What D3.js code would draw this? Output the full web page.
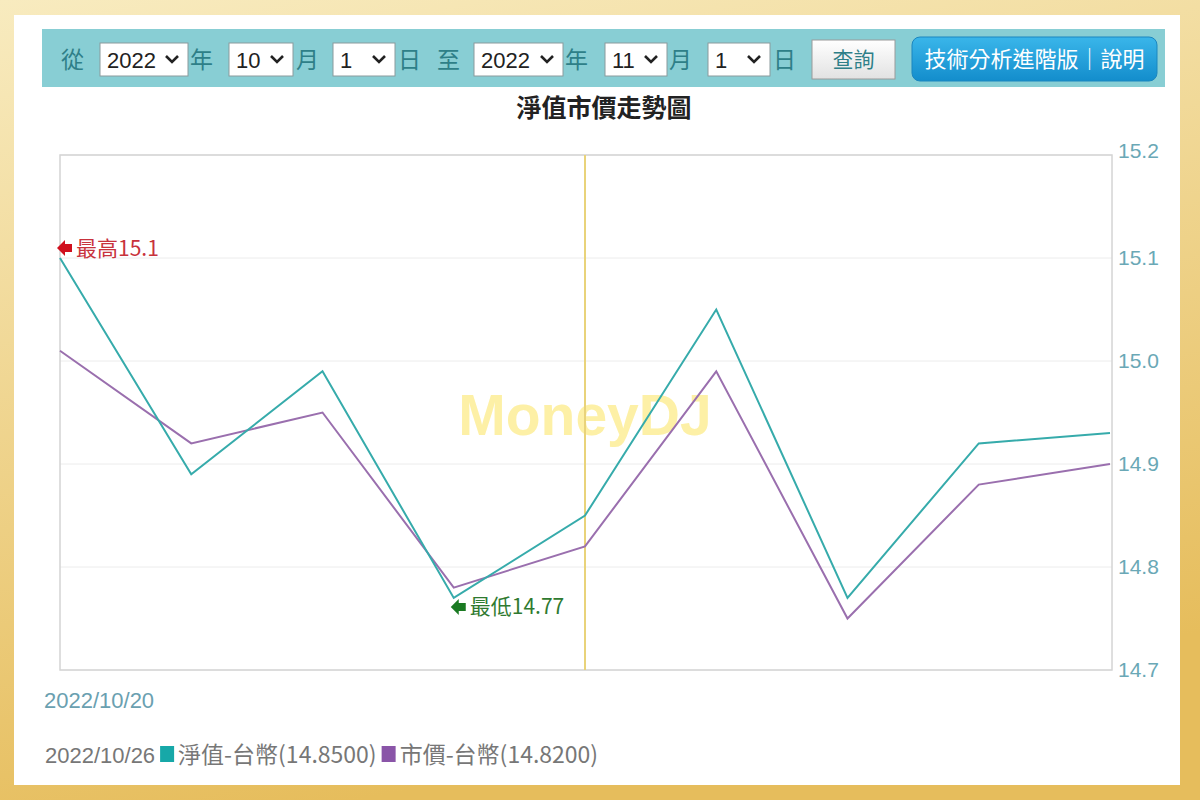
<!DOCTYPE html>
<html><head><meta charset="utf-8">
<script src="https://cdn.jsdelivr.net/npm/d3@7/dist/d3.min.js"></script>
<style>html,body{margin:0;padding:0;background:#fff;}svg{display:block;}</style>
</head><body>
<script>
const dates = ["2022/10/20","2022/10/21","2022/10/24","2022/10/25","2022/10/26","2022/10/27","2022/10/28","2022/10/31","2022/11/01"];
const navValues = [15.10, 14.89, 14.99, 14.77, 14.85, 15.05, 14.77, 14.92, 14.93];
const priceValues = [15.01, 14.92, 14.95, 14.78, 14.82, 14.99, 14.75, 14.88, 14.90];
const yTicks = [14.7, 14.8, 14.9, 15.0, 15.1, 15.2];
const hoverIndex = 4;
const chartTitle = "淨值市價走勢圖";
const seriesNames = ["淨值-台幣", "市價-台幣"];

const W = 1200, H = 800;
const svg = d3.select("body").append("svg").attr("width", W).attr("height", H);
const defs = svg.append("defs");
const fg = defs.append("linearGradient").attr("id","frame").attr("x1","0").attr("y1","0").attr("x2","0.3").attr("y2","1");
fg.append("stop").attr("offset","0%").attr("stop-color","#f8ebbf");
fg.append("stop").attr("offset","100%").attr("stop-color","#e6bd5c");
const bg = defs.append("linearGradient").attr("id","blueBtn").attr("x1","0").attr("y1","0").attr("x2","0").attr("y2","1");
bg.append("stop").attr("offset","0%").attr("stop-color","#3ab6ea");
bg.append("stop").attr("offset","100%").attr("stop-color","#138dcc");
const gg = defs.append("linearGradient").attr("id","grayBtn").attr("x1","0").attr("y1","0").attr("x2","0").attr("y2","1");
gg.append("stop").attr("offset","0%").attr("stop-color","#ffffff");
gg.append("stop").attr("offset","100%").attr("stop-color","#e2e2e2");

svg.append("rect").attr("width",W).attr("height",H).attr("fill","url(#frame)");
svg.append("rect").attr("x",14).attr("y",15).attr("width",1166).attr("height",770).attr("fill","#fff");

const CJK = "'Noto Sans CJK TC','Liberation Sans',sans-serif";
const NUM = "'Liberation Sans','Noto Sans CJK TC',sans-serif";

// toolbar
const tb = svg.append("g");
tb.append("rect").attr("x",42).attr("y",29).attr("width",1123).attr("height",58).attr("fill","#88ced4");
const labelColor = "#2e7f88";
function tText(px, t){ tb.append("text").attr("x",px).attr("y",68).attr("font-family",CJK).attr("font-size",23).attr("fill",labelColor).text(t); }
function sel(px, w, t){
  tb.append("rect").attr("x",px).attr("y",43).attr("width",w).attr("height",33).attr("fill","#fff").attr("stroke","#8a9a9c").attr("stroke-width",1);
  tb.append("text").attr("x",px+7).attr("y",68).attr("font-family",NUM).attr("font-size",22).attr("fill","#222").text(t);
  const cx = px + w - 16;
  tb.append("path").attr("d",`M${cx-6},56 L${cx},62 L${cx+6},56`).attr("fill","none").attr("stroke","#222").attr("stroke-width",2.6);
}
tText(61,"從"); sel(100,88,"2022"); tText(190,"年");
sel(229,64,"10"); tText(296,"月");
sel(333,62,"1"); tText(398,"日");
tText(437,"至"); sel(474,89,"2022"); tText(565,"年");
sel(605,62,"11"); tText(669,"月");
sel(708,62,"1"); tText(773,"日");
tb.append("rect").attr("x",812).attr("y",40).attr("width",83).attr("height",39).attr("fill","url(#grayBtn)").attr("stroke","#9a9a9a");
tb.append("text").attr("x",853.5).attr("y",67).attr("text-anchor","middle").attr("font-family",CJK).attr("font-size",21).attr("fill","#2e7f88").text("查詢");
tb.append("rect").attr("x",912).attr("y",37).attr("width",245).attr("height",44).attr("rx",8).attr("fill","url(#blueBtn)").attr("stroke","#1b86bf");
tb.append("text").attr("x",1034.5).attr("y",67).attr("text-anchor","middle").attr("font-family",CJK).attr("font-size",22).attr("fill","#fff").text("技術分析進階版｜說明");

// title
svg.append("text").attr("x",604).attr("y",117).attr("text-anchor","middle").attr("font-family",CJK).attr("font-size",25).attr("font-weight","bold").attr("fill","#222").text(chartTitle);

// plot
const pLeft = 60, pRight = 1112, pTop = 155, pBottom = 670;
const x = d3.scalePoint().domain(d3.range(dates.length)).range([pLeft, pRight-2]);
const y = d3.scaleLinear().domain([14.7, 15.2]).range([pBottom, pTop]);

const plot = svg.append("g");
plot.append("g").selectAll("line").data(yTicks).join("line")
  .attr("x1",pLeft).attr("x2",pRight).attr("y1",d=>y(d)).attr("y2",d=>y(d))
  .attr("stroke","#ececec").attr("stroke-width",1);
plot.append("rect").attr("x",pLeft).attr("y",pTop).attr("width",pRight-pLeft).attr("height",pBottom-pTop)
  .attr("fill","none").attr("stroke","#d4d4d4").attr("stroke-width",1.5);

// watermark
plot.append("text").attr("x",585).attr("y",435).attr("text-anchor","middle").attr("font-family",NUM).attr("font-weight","bold").attr("font-size",57).attr("fill","#fdf0a6").text("MoneyDJ");

// hover line
plot.append("line").attr("x1",x(hoverIndex)).attr("x2",x(hoverIndex)).attr("y1",pTop).attr("y2",pBottom).attr("stroke","#e9d37a").attr("stroke-width",2);

// right axis
const axis = d3.axisRight(y).tickValues(yTicks).tickSize(0).tickFormat(d3.format(".1f"));
const ag = svg.append("g").attr("transform",`translate(${pRight},0)`).call(axis);
ag.select(".domain").remove();
ag.selectAll("text").attr("x",6).attr("font-family",NUM).attr("font-size",21).attr("fill","#6aa8b6")
  .attr("dy", d => d === yTicks[yTicks.length-1] ? "0.1em" : "0.32em");

// lines
const line = d3.line().x((d,i)=>x(i)).y(d=>y(d));
plot.append("path").datum(priceValues).attr("d",line).attr("fill","none").attr("stroke","#9a6fae").attr("stroke-width",2);
plot.append("path").datum(navValues).attr("d",line).attr("fill","none").attr("stroke","#36abab").attr("stroke-width",2);

// max/min annotations
const maxI = d3.maxIndex(navValues), minI = d3.minIndex(navValues);
function arrow(px, py, color){
  plot.append("path").attr("d",`M${px-3},${py} L${px+5},${py-8} L${px+5},${py-4} L${px+12},${py-4} L${px+12},${py+4} L${px+5},${py+4} L${px+5},${py+8} Z`).attr("fill",color);
}
const mx = x(maxI), my = y(navValues[maxI]) - 10;
arrow(mx, my, "#d0101e");
plot.append("text").attr("x",mx+16).attr("y",my).attr("dy","0.36em").attr("font-family",CJK).attr("font-size",21).attr("fill","#c8323c").text("最高" + d3.format(".1f")(navValues[maxI]));
const nx = x(minI), ny = y(navValues[minI]) + 9;
arrow(nx, ny, "#1a7a22");
plot.append("text").attr("x",nx+16).attr("y",ny).attr("dy","0.36em").attr("font-family",CJK).attr("font-size",21).attr("fill","#2f7a30").text("最低" + d3.format(".2f")(navValues[minI]));

// x label
svg.append("text").attr("x",44).attr("y",708).attr("font-family",NUM).attr("font-size",22).attr("fill","#6aa0b0").text(dates[0]);

// legend
const lg = svg.append("g").attr("font-family",NUM).attr("font-size",22).attr("fill","#777");
let lx = 45; const ly = 763;
const t1 = lg.append("text").attr("x",lx).attr("y",ly).text(dates[hoverIndex]);
lx += t1.node().getComputedTextLength() + 5;
lg.append("rect").attr("x",lx).attr("y",ly-17).attr("width",14).attr("height",16).attr("fill","#17a8a8");
lx += 18;
const t2 = lg.append("text").attr("x",lx).attr("y",ly).attr("font-family",CJK).attr("font-size",23).text(`${seriesNames[0]}(${d3.format(".4f")(navValues[hoverIndex])})`);
lx += t2.node().getComputedTextLength() + 5;
lg.append("rect").attr("x",lx).attr("y",ly-17).attr("width",14).attr("height",16).attr("fill","#8a55a8");
lx += 18;
lg.append("text").attr("x",lx).attr("y",ly).attr("font-family",CJK).attr("font-size",23).text(`${seriesNames[1]}(${d3.format(".4f")(priceValues[hoverIndex])})`);
</script>
</body></html>
